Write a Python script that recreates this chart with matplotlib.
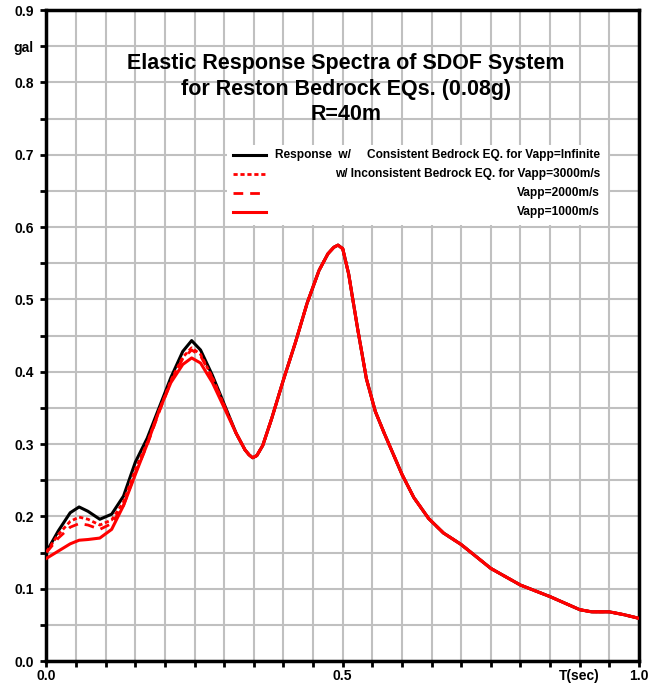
import matplotlib
matplotlib.use("Agg")
import matplotlib.pyplot as plt
from matplotlib.ticker import MultipleLocator
from matplotlib.patches import Rectangle

# period values (sec)
periods = [0.0, 0.02, 0.04, 0.055, 0.07, 0.09, 0.11, 0.13, 0.15, 0.17, 0.19,
           0.21, 0.23, 0.245, 0.26, 0.28, 0.30, 0.32, 0.335, 0.342, 0.348,
           0.355, 0.365, 0.38, 0.40, 0.42, 0.44, 0.46, 0.475, 0.485, 0.492,
           0.50, 0.51, 0.525, 0.54, 0.555, 0.57, 0.60, 0.62, 0.645, 0.67,
           0.70, 0.75, 0.80, 0.85, 0.90, 0.92, 0.95, 0.975, 1.0]

# common part of all spectra for T > 0.30
tail = [0.315, 0.292, 0.285, 0.281, 0.284, 0.298, 0.335, 0.389, 0.440,
        0.495, 0.540, 0.563, 0.572, 0.575, 0.570, 0.535, 0.460, 0.390,
        0.345, 0.315, 0.258, 0.226, 0.197, 0.177, 0.161, 0.128, 0.105,
        0.089, 0.071, 0.068, 0.068, 0.064, 0.059]

# response spectra (gal) for T = 0 .. 0.30
sa_infinite = [0.151, 0.180, 0.205, 0.213, 0.207, 0.196, 0.203, 0.228, 0.275,
               0.308, 0.350, 0.392, 0.428, 0.443, 0.430, 0.395, 0.355] + tail
sa_3000 = [0.151, 0.175, 0.193, 0.199, 0.196, 0.188, 0.195, 0.220, 0.265,
           0.302, 0.346, 0.388, 0.420, 0.433, 0.424, 0.392, 0.353] + tail
sa_2000 = [0.150, 0.170, 0.185, 0.190, 0.188, 0.182, 0.190, 0.215, 0.260,
           0.299, 0.344, 0.386, 0.418, 0.430, 0.422, 0.391, 0.353] + tail
sa_1000 = [0.142, 0.152, 0.162, 0.167, 0.168, 0.170, 0.182, 0.215, 0.258,
           0.300, 0.346, 0.385, 0.410, 0.419, 0.412, 0.385, 0.350] + tail

legend_labels = ["Consistent Bedrock EQ. for Vapp=Infinite",
                 "w/ Inconsistent Bedrock EQ. for Vapp=3000m/s",
                 "Vapp=2000m/s",
                 "Vapp=1000m/s"]

plt.rcParams['font.family'] = ['Liberation Sans', 'DejaVu Sans']
plt.rcParams['font.weight'] = 'bold'

fig = plt.figure(figsize=(6.67, 6.86), dpi=100)
ax = fig.add_axes([0.0697, 0.0364, 0.8883, 0.949])

styles = [dict(color='black', lw=2.2, ls='-'),
          dict(color='red', lw=2.0, ls=(0, (1.5, 1))),
          dict(color='red', lw=2.0, ls=(0, (3.5, 2.5))),
          dict(color='red', lw=2.2, ls='-')]

for sa, st in zip([sa_infinite, sa_3000, sa_2000, sa_1000], styles):
    ax.plot(periods, sa, zorder=3, solid_joinstyle='round', **st)

ax.set_xlim(0, 1.0)
ax.set_ylim(0, 0.9)

ax.grid(True, color='#c0c0c0', lw=1.5, zorder=0)
ax.set_axisbelow(True)

xt = [i * 0.05 for i in range(21)]
xl = [''] * 21
xl[0], xl[10], xl[18], xl[20] = '0.0', '0.5', 'T(sec)', '1.0'
ax.set_xticks(xt)
ax.set_xticklabels(xl)

yt = [i * 0.05 for i in range(19)]
yl = ['%.1f' % v if i % 2 == 0 else '' for i, v in enumerate(yt)]
yl[17] = 'gal'
ax.set_yticks(yt)
ax.set_yticklabels(yl)

ax.tick_params(axis='both', direction='out', length=4, width=2,
               labelsize=10)
ax.tick_params(axis='x', pad=1.5)
ax.tick_params(axis='y', pad=5)
for lab in ax.get_xticklabels() + ax.get_yticklabels():
    lab.set_fontweight('bold')
for sp in ax.spines.values():
    sp.set_linewidth(2.5)
    sp.set_color('black')

ax.text(0.505, 0.9335, "Elastic Response Spectra of SDOF System\n"
        "for Reston Bedrock EQs. (0.08g)\nR=40m",
        transform=ax.transAxes, ha='center', va='top', fontsize=15.5,
        fontweight='bold', linespacing=1.28)

# legend drawn by hand to keep right aligned text
def ax_x(px):
    return (px - 46.5) / 592.5

def ax_y(py):
    return (661 - py) / 651.0

ax.add_patch(Rectangle((ax_x(227), ax_y(225)), ax_x(608) - ax_x(227),
                       ax_y(145) - ax_y(225), transform=ax.transAxes,
                       facecolor='white', edgecolor='none', zorder=2))
rows = [155, 173.5, 192.5, 211.5]
for py, st, lab in zip(rows, styles, legend_labels):
    ax.plot([ax_x(233), ax_x(266)], [ax_y(py), ax_y(py)],
            transform=ax.transAxes, zorder=4, **st)
    ax.text(ax_x(600), ax_y(py), lab, transform=ax.transAxes, ha='right',
            va='center', fontsize=8.6, fontweight='bold', zorder=5)
ax.text(ax_x(275), ax_y(rows[0]), "Response  w/", transform=ax.transAxes,
        ha='left', va='center', fontsize=8.6, fontweight='bold', zorder=5)

fig.savefig("out.png", dpi=100)
